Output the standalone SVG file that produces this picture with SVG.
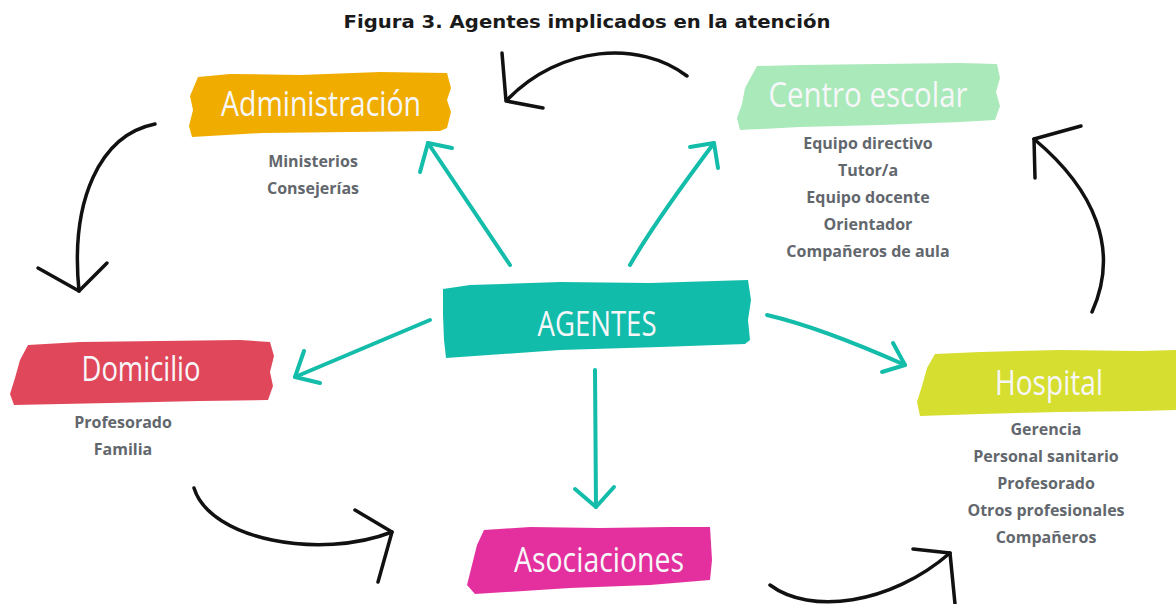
<svg xmlns="http://www.w3.org/2000/svg" width="1176" height="604" viewBox="0 0 1176 604">
<defs>
<style>
.title{font-family:"DejaVu Sans",sans-serif;font-weight:bold;font-size:18px;fill:#1a1a1a;text-anchor:middle}
.head{font-family:"Open Sans",sans-serif;font-size:35px;fill:#f7f7fa;text-anchor:middle}
.sub{font-family:"Open Sans",sans-serif;font-weight:bold;font-size:16px;fill:#62676d;text-anchor:middle}
.teal{fill:none;stroke:#14bcaa;stroke-width:4;stroke-linecap:round;stroke-linejoin:round}
.blk{fill:none;stroke:#111;stroke-width:3.5;stroke-linecap:round;stroke-linejoin:round}
</style>
</defs>
<rect width="1176" height="604" fill="#fff"/>
<text class="title" x="587" y="28" textLength="487" lengthAdjust="spacingAndGlyphs">Figura 3. Agentes implicados en la atención</text>

<g id="connectors">
<g id="teal-arrows">
<path class="teal" d="M510,265 L428,143"/><path class="teal" d="M420,172 L428,143 L452,148"/>
<path class="teal" d="M630,265 C650,230 690,175 714,143"/><path class="teal" d="M690,147 L714,143 L718,168"/>
<path class="teal" d="M430,320 L295,377"/><path class="teal" d="M304,351 L295,377 L320,383"/>
<path class="teal" d="M595,370 L596,507"/><path class="teal" d="M575,489 L596,507 L614,487"/>
<path class="teal" d="M767,315 C810,325 860,345 905,365"/><path class="teal" d="M893,343 L905,365 L882,372"/>
</g>
<g id="black-arrows">
<path class="blk" d="M687,76 C640,40 560,45 507,100"/><path class="blk" d="M502,53 L506,101 L543,108"/>
<path class="blk" d="M155,124 C100,135 70,200 79,291"/><path class="blk" d="M38,268 L79,291 L107,263"/>
<path class="blk" d="M194,488 C210,540 320,560 392,532"/><path class="blk" d="M355,510 L392,532 L378,582"/>
<path class="blk" d="M770,585 C810,615 890,605 950,553"/><path class="blk" d="M913,549 L950,553 L955,604"/>
<path class="blk" d="M1092,312 C1120,250 1095,190 1034,139"/><path class="blk" d="M1081,126 L1034,139 L1035,178"/>
</g>
</g>

<g id="administracion">
<path fill="#f0ad00" d="M198,77 L230,74 L300,75 L380,72 L447,73 L451,88 L447,100 L451,112 L447,128 L440,131 L350,132 L262,133 L192,137 L189,126 L193,110 L190,96 Z"/>
<text class="head" x="321" y="116" textLength="200" lengthAdjust="spacingAndGlyphs">Administración</text>
<text class="sub" x="313" y="167">Ministerios</text>
<text class="sub" x="313" y="194">Consejerías</text>
</g>

<g id="centro-escolar">
<path fill="#aae9b9" d="M757,66 L800,65 L880,64 L960,63 L997,64 L1000,78 L996,92 L1000,106 L995,120 L960,122 L880,125 L800,127 L740,130 L737,118 L742,104 L745,88 Z"/>
<text class="head" x="868" y="107" textLength="199" lengthAdjust="spacingAndGlyphs">Centro escolar</text>
<text class="sub" x="868" y="149">Equipo directivo</text>
<text class="sub" x="868" y="176">Tutor/a</text>
<text class="sub" x="868" y="203">Equipo docente</text>
<text class="sub" x="868" y="230">Orientador</text>
<text class="sub" x="868" y="257">Compañeros de aula</text>
</g>

<g id="agentes">
<path fill="#12bcaa" d="M443,289 L470,285 L560,282 L650,283 L748,280 L751,300 L748,320 L750,340 L745,344 L660,347 L560,350 L446,358 L444,340 L443,315 Z"/>
<text class="head" x="597" y="336" textLength="119" lengthAdjust="spacingAndGlyphs">AGENTES</text>
</g>

<g id="domicilio">
<path fill="#e1475a" d="M28,345 L80,342 L160,341 L240,340 L270,342 L274,356 L270,372 L273,386 L268,400 L200,401 L110,403 L14,405 L10,394 L15,378 L20,360 Z"/>
<text class="head" x="141" y="381" textLength="119" lengthAdjust="spacingAndGlyphs">Domicilio</text>
<text class="sub" x="123" y="428">Profesorado</text>
<text class="sub" x="123" y="455">Familia</text>
</g>

<g id="hospital">
<path fill="#d6de30" d="M935,354 L980,352 L1060,350 L1140,351 L1176,350 L1176,410 L1140,411 L1060,412 L980,414 L920,416 L917,402 L922,386 L927,368 Z"/>
<text class="head" x="1049" y="395" textLength="108" lengthAdjust="spacingAndGlyphs">Hospital</text>
<text class="sub" x="1046" y="435">Gerencia</text>
<text class="sub" x="1046" y="462">Personal sanitario</text>
<text class="sub" x="1046" y="489">Profesorado</text>
<text class="sub" x="1046" y="516">Otros profesionales</text>
<text class="sub" x="1046" y="543">Compañeros</text>
</g>

<g id="asociaciones">
<path fill="#e4309e" d="M484,530 L530,527 L600,528 L670,527 L710,527 L712,560 L710,580 L650,585 L570,588 L475,594 L467,585 L472,565 L477,545 Z"/>
<text class="head" x="599" y="572" textLength="170" lengthAdjust="spacingAndGlyphs">Asociaciones</text>
</g>
</svg>
